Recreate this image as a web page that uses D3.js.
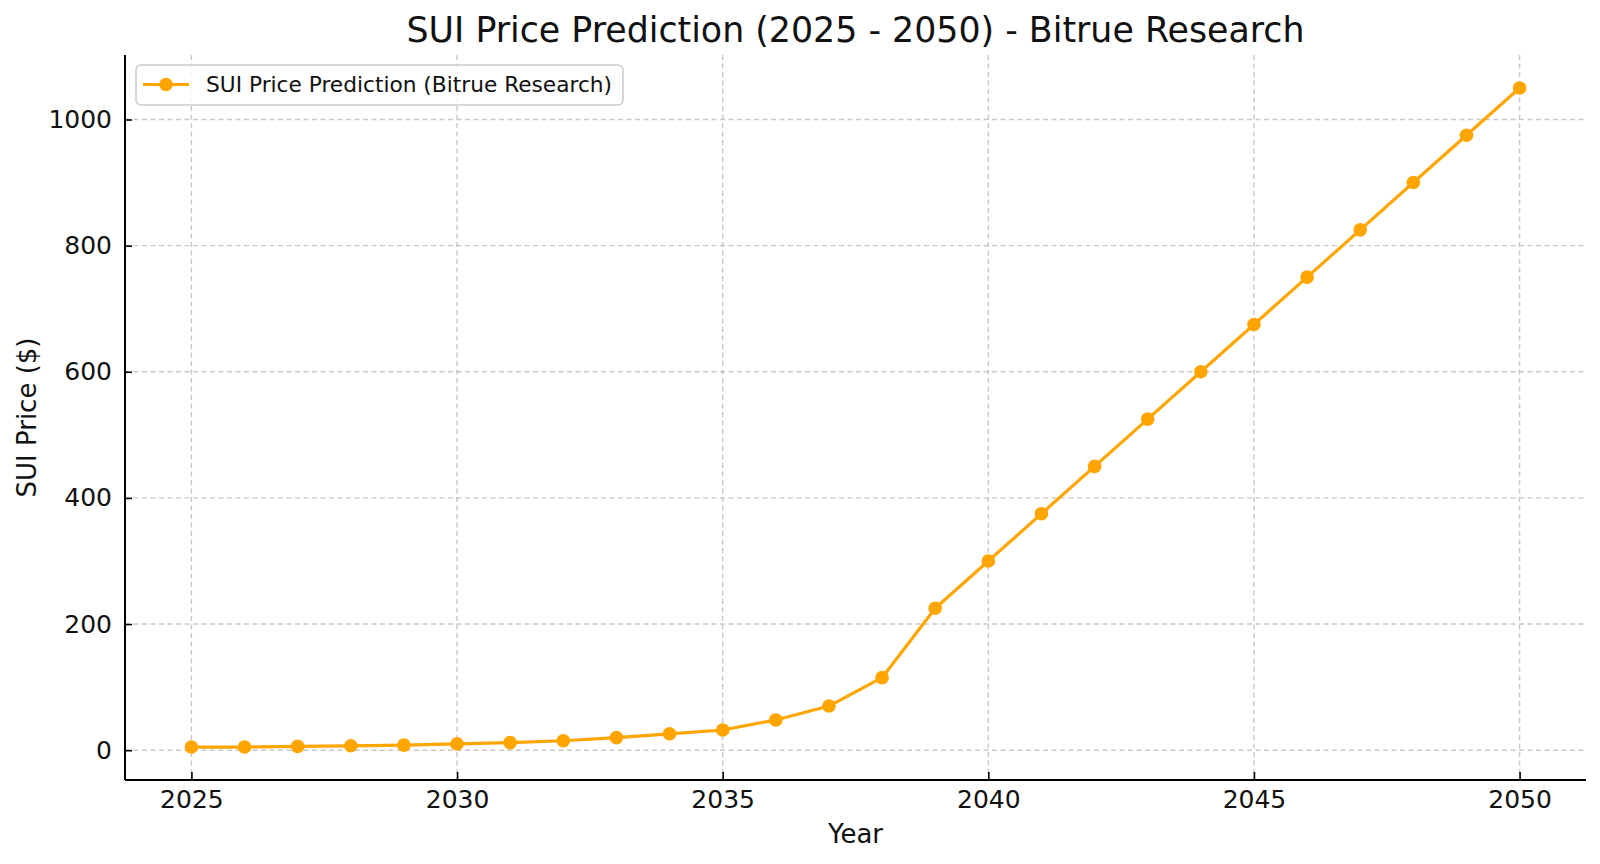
<!DOCTYPE html>
<html>
<head>
<meta charset="utf-8">
<script src="https://d3js.org/d3.v7.min.js"></script>
<style>
  html, body { margin: 0; padding: 0; background: #fff; }
  svg { display: block; font-family: "DejaVu Sans", sans-serif; }
</style>
</head>
<body>
<svg id="chart" width="1600" height="864"></svg>
<script>
const years = [2025, 2026, 2027, 2028, 2029, 2030, 2031, 2032, 2033, 2034, 2035, 2036, 2037,
               2038, 2039, 2040, 2041, 2042, 2043, 2044, 2045, 2046, 2047, 2048, 2049, 2050];
const prices = [5, 5, 6, 7, 8, 10, 12, 15, 20, 26, 32, 48, 70,
                115, 225, 300, 375, 450, 525, 600, 675, 750, 825, 900, 975, 1050];
const xTicks = [2025, 2030, 2035, 2040, 2045, 2050];
const yTicks = [0, 200, 400, 600, 800, 1000];
const titleText = "SUI Price Prediction (2025 - 2050) - Bitrue Research";
const xLabel = "Year";
const yLabel = "SUI Price ($)";
const seriesName = "SUI Price Prediction (Bitrue Research)";

const svg = d3.select("#chart");
const m = { left: 125, right: 1586, top: 55, bottom: 780 };
const color = "#FFA500";

const xMin = d3.min(years), xMax = d3.max(years);
const xPad = (xMax - xMin) * 0.05;
const yMinD = d3.min(prices), yMaxD = d3.max(prices);
const yPad = (yMaxD - yMinD) * 0.05;

const x = d3.scaleLinear().domain([xMin - xPad, xMax + xPad]).range([m.left, m.right]);
const y = d3.scaleLinear().domain([yMinD - yPad, yMaxD + yPad]).range([m.bottom, m.top]);

// grid
const grid = svg.append("g");
grid.selectAll(".gx").data(xTicks).enter().append("line")
  .attr("x1", d => x(d)).attr("x2", d => x(d))
  .attr("y1", m.top).attr("y2", m.bottom)
  .attr("stroke", "#b0b0b0").attr("stroke-opacity", 0.7).attr("stroke-width", 1.4)
  .attr("stroke-dasharray", "5,3.5");
grid.selectAll(".gy").data(yTicks).enter().append("line")
  .attr("x1", m.left).attr("x2", m.right)
  .attr("y1", d => y(d)).attr("y2", d => y(d))
  .attr("stroke", "#b0b0b0").attr("stroke-opacity", 0.7).attr("stroke-width", 1.4)
  .attr("stroke-dasharray", "5,3.5");

// axes
const xAxis = d3.axisBottom(x).tickValues(xTicks).tickFormat(d3.format("d"))
  .tickSizeInner(-8).tickSizeOuter(0).tickPadding(10);
const yAxis = d3.axisLeft(y).tickValues(yTicks).tickFormat(d3.format("d"))
  .tickSizeInner(-7).tickSizeOuter(0).tickPadding(13);

const gx = svg.append("g").attr("transform", `translate(0,${m.bottom})`).call(xAxis);
const gy = svg.append("g").attr("transform", `translate(${m.left},0)`).call(yAxis);
[gx, gy].forEach(g => {
  g.select(".domain").remove();
  g.selectAll(".tick line").attr("stroke", "#000").attr("stroke-width", 1.6);
  g.selectAll(".tick text").attr("fill", "#111").style("font-size", "25px")
    .style("font-family", "'DejaVu Sans', sans-serif");
});
// spines (left and bottom only)
svg.append("line").attr("x1", m.left).attr("x2", m.left).attr("y1", m.top).attr("y2", m.bottom)
  .attr("stroke", "#000").attr("stroke-width", 2);
svg.append("line").attr("x1", m.left).attr("x2", m.right).attr("y1", m.bottom).attr("y2", m.bottom)
  .attr("stroke", "#000").attr("stroke-width", 2);

// line + markers
const data = years.map((yr, i) => ({ yr, v: prices[i] }));
svg.append("path").datum(data)
  .attr("fill", "none").attr("stroke", color).attr("stroke-width", 3.2)
  .attr("stroke-linejoin", "round")
  .attr("d", d3.line().x(d => x(d.yr)).y(d => y(d.v)));
svg.selectAll(".pt").data(data).enter().append("circle")
  .attr("cx", d => x(d.yr)).attr("cy", d => y(d.v)).attr("r", 6.8).attr("fill", color);

// title and labels
svg.append("text").attr("x", (m.left + m.right) / 2).attr("y", 42)
  .attr("text-anchor", "middle").attr("fill", "#111").style("font-size", "34.8px").text(titleText);
svg.append("text").attr("x", (m.left + m.right) / 2).attr("y", 843)
  .attr("text-anchor", "middle").attr("fill", "#111").style("font-size", "26px").text(xLabel);
svg.append("text").attr("transform", `translate(36,${(m.top + m.bottom) / 2}) rotate(-90)`)
  .attr("text-anchor", "middle").attr("fill", "#111").style("font-size", "26px").text(yLabel);

// legend
const lg = svg.append("g");
lg.append("rect").attr("x", 136).attr("y", 65).attr("width", 487).attr("height", 40)
  .attr("rx", 5).attr("fill", "#fff").attr("fill-opacity", 0.8)
  .attr("stroke", "#cccccc").attr("stroke-width", 1.6);
lg.append("line").attr("x1", 143).attr("x2", 189).attr("y1", 84.5).attr("y2", 84.5)
  .attr("stroke", color).attr("stroke-width", 3.2);
lg.append("circle").attr("cx", 166).attr("cy", 84.5).attr("r", 6.8).attr("fill", color);
lg.append("text").attr("x", 206).attr("y", 92).attr("fill", "#111").style("font-size", "21.7px")
  .text(seriesName);
</script>
</body>
</html>
